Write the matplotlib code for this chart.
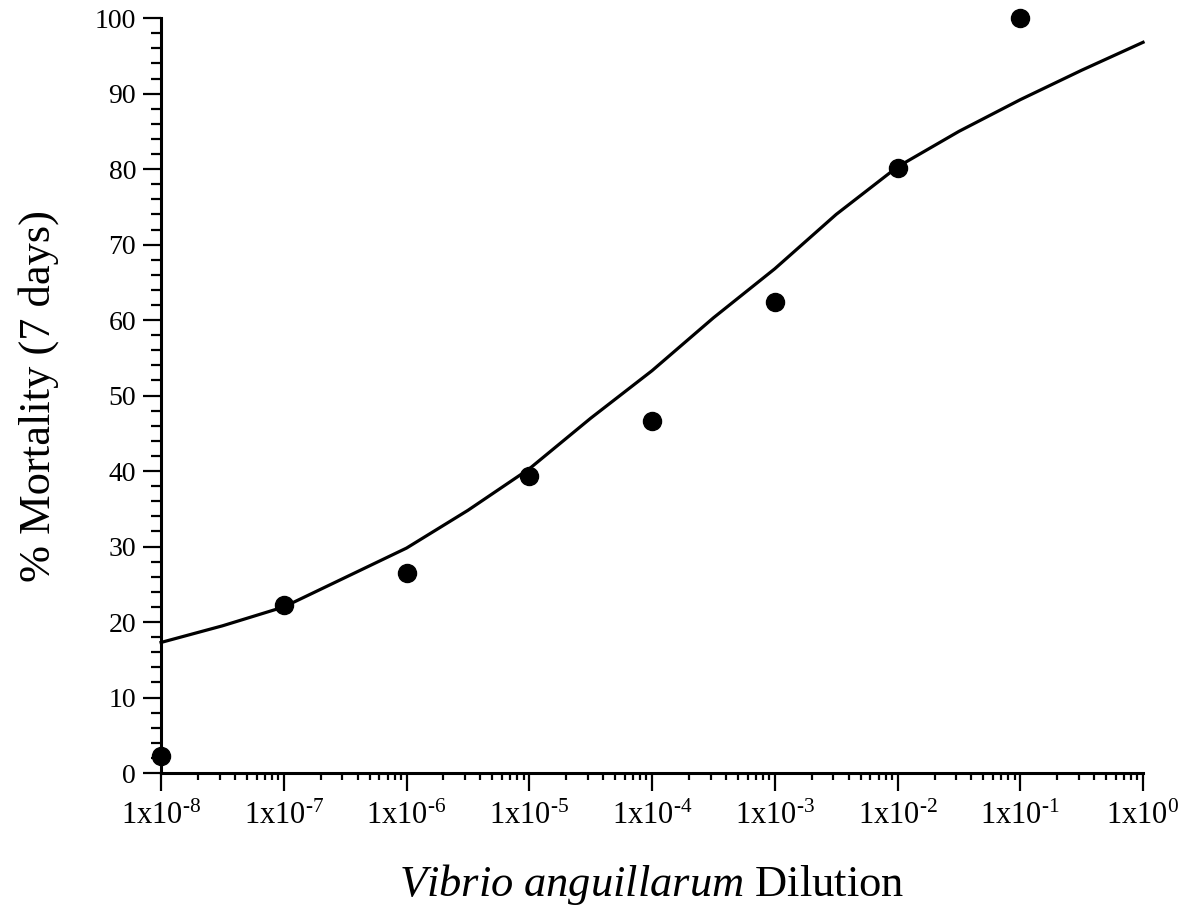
import numpy as np
import matplotlib
matplotlib.use("Agg")
import matplotlib.pyplot as plt
from matplotlib.ticker import LogLocator, FixedLocator, MultipleLocator, NullFormatter

plt.rcParams['font.family'] = ['Liberation Serif', 'DejaVu Serif']
plt.rcParams['mathtext.fontset'] = 'custom'
plt.rcParams['mathtext.rm'] = 'Liberation Serif'
plt.rcParams['mathtext.it'] = 'Liberation Serif:italic'
plt.rcParams['mathtext.default'] = 'regular'

# measured points (dilution, % mortality after 7 days)
dilution = [1e-8, 1e-7, 1e-6, 1e-5, 1e-4, 1e-3, 1e-2, 1e-1]
mortality = [2.2, 22.3, 26.5, 39.3, 46.6, 62.4, 80.1, 100.0]

curve_exp = [-8, -7.5, -7, -6.5, -6, -5.5, -5, -4.5, -4,
             -3.5, -3, -2.5, -2, -1.5, -1, -0.5, 0]
curve_y = [17.3, 19.5, 22.0, 25.9, 29.8, 34.8, 40.3, 47.0, 53.3,
           60.3, 66.8, 74.0, 80.3, 85.0, 89.2, 93.1, 96.8]

decades = [-8, -7, -6, -5, -4, -3, -2, -1, 0]
xtick_labels = [r'1x10$^{\text{%d}}$' % d for d in decades]

fig = plt.figure(figsize=(11.85, 9.07), dpi=100)
ax = fig.add_axes([0.1359, 0.1477, 0.8287, 0.8323])

ax.plot([10.0 ** e for e in curve_exp], curve_y, color='black', lw=2.3,
        clip_on=False, zorder=3)
ax.plot(dilution, mortality, 'o', color='black', ms=13, clip_on=False, zorder=4)

ax.set_xscale('log')
ax.set_xlim(1e-8, 1e0)
ax.set_ylim(0, 100)

ax.xaxis.set_major_locator(FixedLocator([10.0 ** d for d in decades]))
ax.set_xticklabels(xtick_labels)
ax.xaxis.set_minor_locator(LogLocator(base=10, subs=np.arange(2, 10), numticks=20))
ax.xaxis.set_minor_formatter(NullFormatter())

ax.yaxis.set_major_locator(MultipleLocator(10))
ax.yaxis.set_minor_locator(MultipleLocator(2))

for s in ['top', 'right']:
    ax.spines[s].set_visible(False)
for s in ['left', 'bottom']:
    ax.spines[s].set_linewidth(2.2)

ax.tick_params(axis='both', which='major', direction='out', length=13, width=1.6,
               color='black')
ax.tick_params(axis='y', which='minor', direction='out', length=7, width=1.6)
ax.tick_params(axis='x', which='minor', direction='out', length=5, width=1.6)
ax.tick_params(axis='x', which='major', pad=8, labelsize=22)
ax.tick_params(axis='y', which='major', pad=5, labelsize=20)

ax.set_xlabel(r'$\mathit{Vibrio\ anguillarum}$ Dilution', fontsize=32, labelpad=22)
ax.set_ylabel('% Mortality (7 days)', fontsize=32, labelpad=26)

fig.savefig('out.png', dpi=100, facecolor='white')
